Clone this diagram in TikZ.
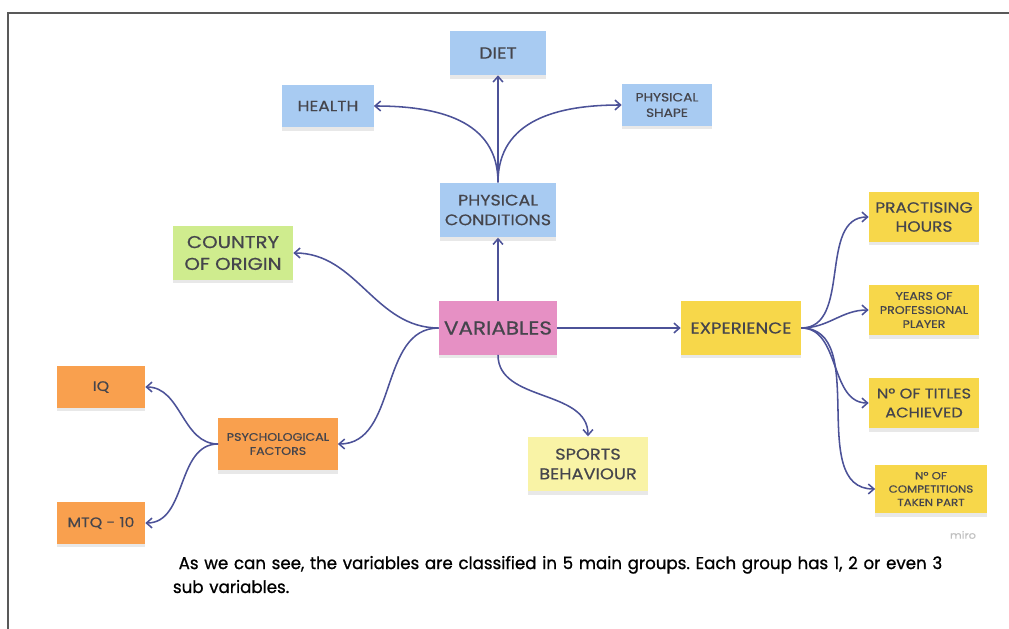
\documentclass[tikz,border=0pt]{standalone}
\usepackage{fontspec}
\setmainfont{Poppins}[FakeStretch=1.15, FakeBold=0.6]
\newfontfamily\captionfont{Poppins}[FakeStretch=0.97, FakeBold=0.9]
\usepackage{tikz}
\usetikzlibrary{arrows.meta, shadows}

\definecolor{noteblue}{HTML}{A8CBF2}
\definecolor{notegreen}{HTML}{CFEC8E}
\definecolor{notepink}{HTML}{E690C4}
\definecolor{noteyellow}{HTML}{F7D74A}
\definecolor{notepale}{HTML}{F9F3A6}
\definecolor{noteorange}{HTML}{F9A04E}
\definecolor{notetext}{HTML}{45454C}
\definecolor{linkblue}{HTML}{4C5298}

\begin{document}
\begin{tikzpicture}[
        x=0.025cm, y=-0.025cm,
        note/.style={inner sep=1pt, align=center, text=notetext, font=\fontsize{10.5}{13.5}\selectfont,
            drop shadow={shadow xshift=0pt, shadow yshift=-2.5pt, opacity=0.18}},
        smallnote/.style={note, font=\fontsize{7.8}{10}\selectfont},
        link/.style={->, line width=1.1pt, linkblue},
        >={Straight Barb[length=4pt, width=7pt]}
    ]
        \useasboundingbox (0,0) rectangle (1009,629);
        \draw[black!65, line width=1.2pt] (8,629) -- (8,13) -- (1009,13);

        % Notes
        \node[note, fill=notepink, minimum width=2.95cm, minimum height=1.33cm, font=\fontsize{13.3}{16}\selectfont] (var) at (498,328) {VARIABLES};
        \node[note, fill=noteblue, minimum width=2.9cm, minimum height=1.37cm, font=\fontsize{10.8}{14}\selectfont] (phys) at (498,210) {PHYSICAL\\CONDITIONS};
        \node[note, fill=noteblue, minimum width=2.42cm, minimum height=1.1cm, font=\fontsize{11.5}{14}\selectfont] (diet) at (498,53) {DIET};
        \node[note, fill=noteblue, minimum width=2.28cm, minimum height=1.05cm, font=\fontsize{10.6}{13}\selectfont] (health) at (328,106) {HEALTH};
        \node[smallnote, fill=noteblue, minimum width=2.25cm, minimum height=1.03cm, font=\fontsize{8.5}{11}\selectfont] (shape) at (667,105) {PHYSICAL\\SHAPE};
        \node[note, fill=notegreen, minimum width=3cm, minimum height=1.33cm, font=\fontsize{12.2}{15.5}\selectfont] (country) at (233,253) {COUNTRY\\OF ORIGIN};
        \node[note, fill=noteyellow, minimum width=3cm, minimum height=1.33cm, font=\fontsize{11.2}{14}\selectfont] (exp) at (741,328) {EXPERIENCE};
        \node[note, fill=noteyellow, minimum width=2.75cm, minimum height=1.23cm] (hours) at (924,217) {PRACTISING\\HOURS};
        \node[smallnote, fill=noteyellow, minimum width=2.75cm, minimum height=1.25cm] (years) at (924,310) {YEARS OF\\PROFESSIONAL\\PLAYER};
        \node[note, fill=noteyellow, minimum width=2.75cm, minimum height=1.25cm, font=\fontsize{10}{13.5}\selectfont] (titles) at (924,403) {Nº OF TITLES\\ACHIEVED};
        \node[smallnote, fill=noteyellow, minimum width=2.78cm, minimum height=1.2cm, font=\fontsize{7.3}{9.5}\selectfont] (comps) at (931,489) {Nº OF\\COMPETITIONS\\TAKEN PART};
        \node[note, fill=notepale, minimum width=3cm, minimum height=1.37cm, font=\fontsize{11}{14}\selectfont] (sports) at (588,464) {SPORTS\\BEHAVIOUR};
        \node[smallnote, fill=noteorange, minimum width=2.98cm, minimum height=1.3cm] (psych) at (278,444) {PSYCHOLOGICAL\\FACTORS};
        \node[note, fill=noteorange, minimum width=2.2cm, minimum height=1.03cm, font=\fontsize{9.8}{12}\selectfont] (iq) at (101,387) {IQ};
        \node[note, fill=noteorange, minimum width=2.2cm, minimum height=1.03cm, font=\fontsize{9.8}{12}\selectfont] (mtq) at (101,523) {MTQ - 10};

        % Links
        \draw[link] (var.north) -- (phys.south);
        \draw[link] (phys.north) -- (diet.south);
        \draw[link] (phys.north) to[out=90, in=0, looseness=1.1] (health.east);
        \draw[link] (phys.north) to[out=90, in=180, looseness=1.1] (shape.west);
        \draw[link] (var.west) to[out=180, in=0] (country.east);
        \draw[link] (var.west) to[out=180, in=0] (psych.east);
        \draw[link] (var.east) -- (exp.west);
        \draw[link] (var.south) to[out=-90, in=90] (sports.north);
        \draw[link] (exp.east) to[out=0, in=180] (hours.west);
        \draw[link] (exp.east) to[out=0, in=180] (years.west);
        \draw[link] (exp.east) to[out=0, in=180] (titles.west);
        \draw[link] (exp.east) to[out=0, in=180] (comps.west);
        \draw[link] (psych.west) to[out=180, in=0] (iq.east);
        \draw[link] (psych.west) to[out=180, in=0] (mtq.east);

        % Caption
        \node[gray!50, font=\fontsize{7}{8}\selectfont] (miro) at (963,535) {miro};
        \node[anchor=north west, align=left, text width=20.5cm, font=\captionfont\fontsize{12.2}{17}\selectfont\frenchspacing] (caption) at (168,551)
            {\ As we can see, the variables are classified in 5 main groups. Each group has 1, 2 or even 3\\sub variables.};
    \end{tikzpicture}
\end{document}
